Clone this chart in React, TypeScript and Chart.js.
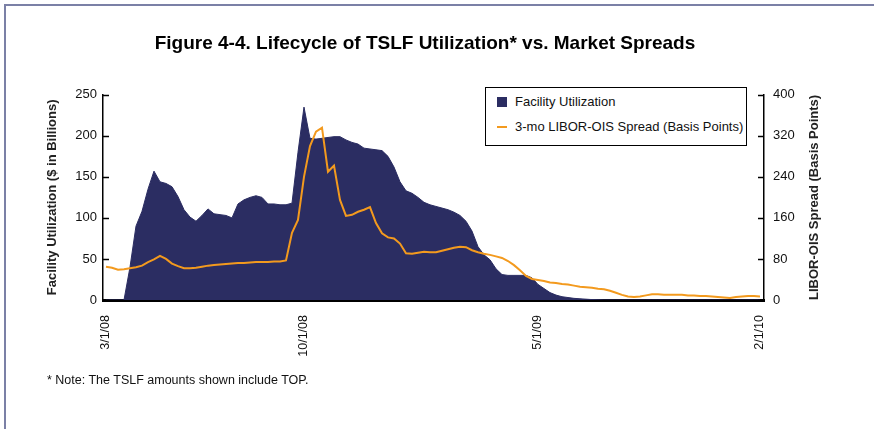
import React, { useEffect, useRef } from "react";
import { Chart, registerables } from "chart.js";

Chart.register(...registerables);

const chartTitle = "Figure 4-4. Lifecycle of TSLF Utilization* vs. Market Spreads";
const leftAxisTitle = "Facility Utilization ($ in Billions)";
const rightAxisTitle = "LIBOR-OIS Spread (Basis Points)";
const seriesNames = ["Facility Utilization", "3-mo LIBOR-OIS Spread (Basis Points)"];
const noteText = "* Note: The TSLF amounts shown include TOP.";

// x positions are weekly-ish sample indices; tick labels sit at these indices
const tickIndex = [0, 33, 72, 109];
const tickText = ["3/1/08", "10/1/08", "5/1/09", "2/1/10"];

// Facility utilization ($ billions)
const utilization = [
  0, 0, 0, 0, 40, 90, 108, 135, 157, 144,
  142, 138, 126, 110, 101, 96, 103, 111, 105, 104,
  103, 100, 117, 122, 125, 127, 125, 117, 117, 116,
  116, 118, 180, 235, 197, 196, 197, 198, 199, 199,
  195, 192, 190, 185, 184, 183, 182, 175, 162, 144,
  133, 130, 125, 119, 116, 114, 112, 110, 107, 103,
  96, 84, 65, 55, 49, 38, 31, 30, 30, 30,
  30, 27, 19, 14, 9, 6, 4, 3, 2, 1.5,
  1, 0.5, 0.3, 0, 0, 0, 0, 0, 0, 0,
  0, 0, 0, 0, 0, 0, 0, 0, 0, 0,
  0, 0, 0, 0, 0, 0, 0, 0, 0, 0,
];

// 3-mo LIBOR-OIS spread (basis points)
const libor = [
  65, 63, 59, 60, 62, 64, 67, 74, 79, 86,
  80, 71, 66, 62, 62, 63, 65, 67, 68, 69,
  70, 71, 72, 72, 73, 74, 74, 74, 75, 75,
  77, 131, 156, 240, 300, 328, 336, 250, 262, 195,
  164, 166, 172, 176, 181, 150, 130, 122, 120, 110,
  91, 90, 92, 94, 93, 93, 96, 99, 102, 104,
  103, 97, 93, 90, 88, 85, 82, 76, 68, 58,
  47, 41, 39, 37, 34, 33, 31, 30, 28, 26,
  25, 24, 22, 21, 18, 14, 10, 7, 6, 7,
  9, 11, 11, 10, 10, 10, 10, 9, 9, 8,
  8, 7, 6, 5, 4, 6, 7, 8, 8, 7,
];

const NAVY = "#2b2d62";
const ORANGE = "#f39a1e";
const FONT = "'Liberation Sans', Arial, Helvetica, sans-serif";

const customPlugin = {
  id: "customTicksAndTitle",
  afterDatasetsDraw(chart: any) {
    const { ctx, chartArea, scales } = chart;
    ctx.save();
    ctx.strokeStyle = "#000";
    ctx.lineWidth = 1.5;
    scales.y.ticks.forEach((t: any) => {
      const py = Math.round(scales.y.getPixelForValue(t.value)) + 0.5;
      ctx.beginPath();
      ctx.moveTo(chartArea.left, py);
      ctx.lineTo(chartArea.left + 6, py);
      ctx.stroke();
    });
    scales.y1.ticks.forEach((t: any) => {
      const py = Math.round(scales.y1.getPixelForValue(t.value)) + 0.5;
      ctx.beginPath();
      ctx.moveTo(chartArea.right - 6, py);
      ctx.lineTo(chartArea.right, py);
      ctx.stroke();
    });
    ctx.fillStyle = "#222";
    ctx.font = `bold 13px ${FONT}`;
    ctx.textAlign = "center";
    ctx.textBaseline = "middle";
    ctx.translate(chartArea.right + 50, (chartArea.top + chartArea.bottom) / 2);
    ctx.rotate(-Math.PI / 2);
    ctx.fillText(rightAxisTitle, 0, 0);
    ctx.restore();
  },
};

export default function App() {
  const canvasRef = useRef<HTMLCanvasElement | null>(null);

  useEffect(() => {
    if (!canvasRef.current) return;
    const chart = new Chart(canvasRef.current, {
      type: "line",
      data: {
        datasets: [
          {
            label: seriesNames[1],
            data: libor.map((v, i) => ({ x: i, y: v })),
            borderColor: ORANGE,
            borderWidth: 2,
            pointRadius: 0,
            fill: false,
            tension: 0,
            yAxisID: "y1",
            order: 0,
          },
          {
            label: seriesNames[0],
            data: utilization.map((v, i) => ({ x: i, y: v })),
            borderColor: NAVY,
            backgroundColor: NAVY,
            borderWidth: 1,
            pointRadius: 0,
            fill: "origin",
            tension: 0,
            yAxisID: "y",
            order: 1,
          },
        ],
      },
      options: {
        responsive: false,
        animation: false,
        devicePixelRatio: 1,
        layout: { padding: { left: 0, right: 24, top: 0, bottom: 0 } },
        plugins: {
          legend: { display: false },
          tooltip: { enabled: false },
          title: {
            display: true,
            text: chartTitle,
            color: "#000",
            font: { family: FONT, size: 19, weight: "bold" },
            padding: { top: 32, bottom: 40 },
          },
        },
        scales: {
          x: {
            type: "linear",
            min: -0.5,
            max: 109.67,
            grid: { display: false, drawTicks: false },
            border: { display: true, color: "#000", width: 3 },
            afterBuildTicks: (scale: any) => {
              scale.ticks = tickIndex.map((v) => ({ value: v }));
            },
            afterFit: (scale: any) => {
              scale.height = 129;
            },
            ticks: {
              autoSkip: false,
              minRotation: 90,
              maxRotation: 90,
              padding: 15,
              color: "#111",
              font: { family: FONT, size: 12.5 },
              callback: (value: any) => {
                const k = tickIndex.indexOf(Number(value));
                return k >= 0 ? tickText[k] : "";
              },
            },
          },
          y: {
            position: "left",
            min: 0,
            max: 250,
            grid: { display: false, drawTicks: false },
            border: { display: true, color: "#000", width: 1.5 },
            afterFit: (scale: any) => {
              scale.width = 103;
            },
            ticks: {
              stepSize: 50,
              padding: 6,
              color: "#111",
              font: { family: FONT, size: 13 },
            },
            title: {
              display: true,
              text: leftAxisTitle,
              color: "#222",
              font: { family: FONT, size: 13, weight: "bold" },
              padding: { top: 45, bottom: 0 },
            },
          },
          y1: {
            position: "right",
            min: 0,
            max: 400,
            grid: { display: false, drawTicks: false },
            border: { display: true, color: "#000", width: 1.5 },
            afterFit: (scale: any) => {
              scale.width = 86;
            },
            ticks: {
              stepSize: 80,
              padding: 9,
              color: "#111",
              font: { family: FONT, size: 13 },
            },
          },
        },
      },
      plugins: [customPlugin],
    });
    return () => chart.destroy();
  }, []);

  return (
    <div
      style={{
        position: "absolute",
        left: 0,
        top: 0,
        width: 874,
        height: 429,
        background: "#fff",
        overflow: "hidden",
        fontFamily: FONT,
      }}
    >
      <div
        style={{
          position: "absolute",
          left: 4,
          top: 4,
          width: 880,
          height: 440,
          borderLeft: "2px solid #7b80a6",
          borderTop: "2px solid #7b80a6",
        }}
      />
      <canvas
        ref={canvasRef}
        width={874}
        height={429}
        style={{ position: "absolute", left: 0, top: 0, width: 874, height: 429 }}
      />
      <div
        style={{
          position: "absolute",
          left: 485,
          top: 87,
          width: 260,
          height: 57,
          border: "1.5px solid #000",
          background: "#fff",
          fontSize: 13,
          color: "#111",
        }}
      >
        <div style={{ position: "absolute", left: 11, top: 9, width: 10, height: 10, background: NAVY }} />
        <div style={{ position: "absolute", left: 29, top: 5, lineHeight: "18px", whiteSpace: "nowrap" }}>
          {seriesNames[0]}
        </div>
        <div style={{ position: "absolute", left: 11, top: 38, width: 10, height: 2, background: ORANGE }} />
        <div style={{ position: "absolute", left: 29, top: 30, lineHeight: "18px", whiteSpace: "nowrap" }}>
          {seriesNames[1]}
        </div>
      </div>
      <div
        style={{
          position: "absolute",
          left: 47,
          top: 373,
          fontSize: 12.5,
          color: "#111",
          whiteSpace: "nowrap",
        }}
      >
        {noteText}
      </div>
    </div>
  );
}
